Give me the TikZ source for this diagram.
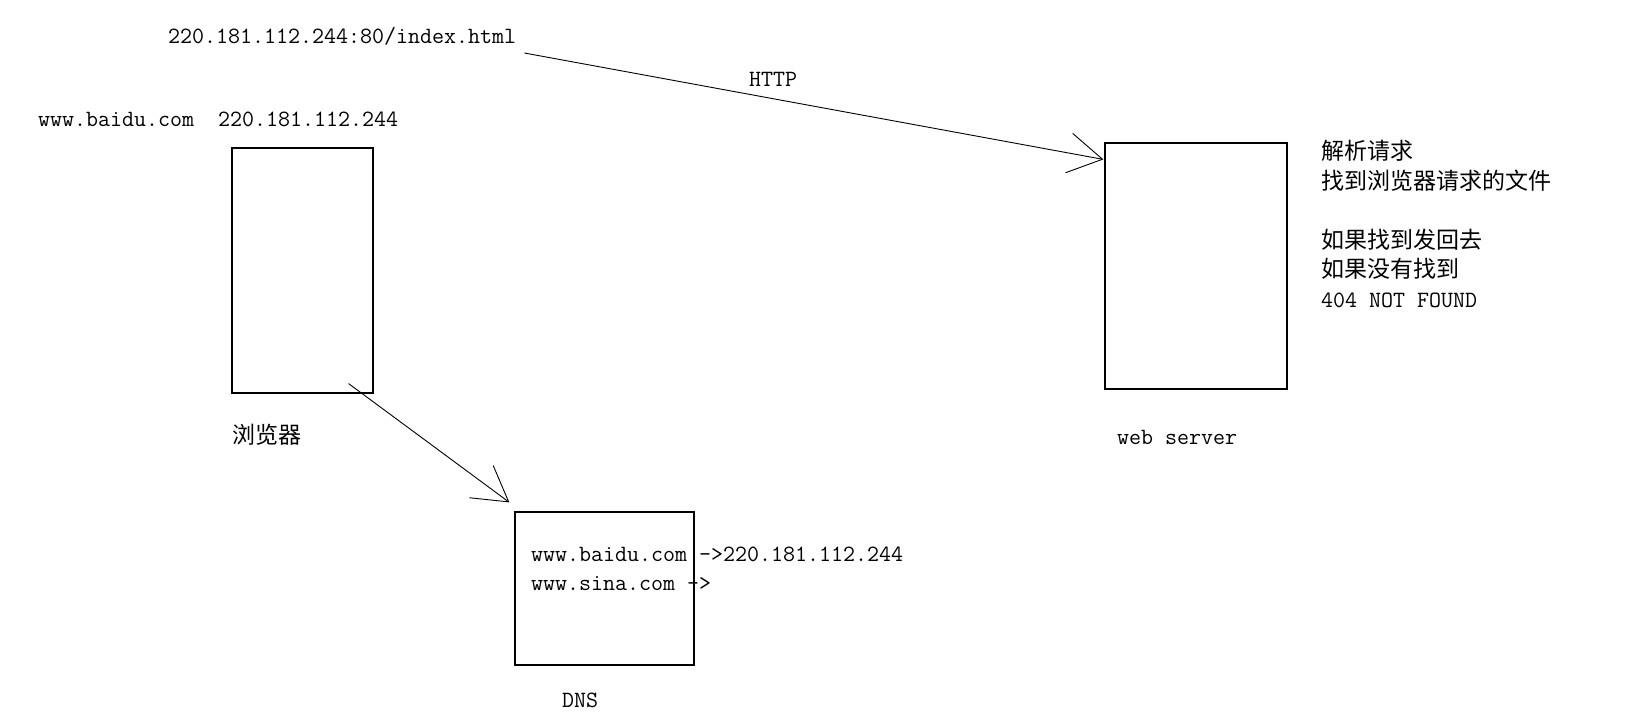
\documentclass[tikz,border=0pt]{standalone}
\usepackage{fontspec}
\newfontfamily\cjk{Noto Sans CJK SC}
\usetikzlibrary{positioning, arrows.meta}

\begin{document}
\begin{tikzpicture}[
    x=1pt, y=-1pt,
    every node/.style={inner sep=0pt},
    box/.style={draw, line width=1.2pt, rectangle},
    mono/.style={font=\ttfamily\fontsize{23.3}{29}\selectfont},
    zh/.style={font=\cjk\fontsize{23}{29.5}\selectfont},
    barb/.style={line width=0.9pt, -{Straight Barb[length=34pt, width=40pt]}}
]
    \useasboundingbox (0,0) rectangle (1641,728);

    % browser, web server and DNS
    \node[box, minimum width=141pt, minimum height=245pt] (browser) at (302.5,270.5) {};
    \node[box, minimum width=182pt, minimum height=246pt] (web) at (1196,266) {};
    \node[box, minimum width=179pt, minimum height=153pt] (dns) at (604.5,588.5) {};

    \node[mono, anchor=base west] (url) at (168,43) {220.181.112.244:80/index.html};
    \node[mono, anchor=base west] (host) at (38,126) {www.baidu.com\ \ 220.181.112.244};
    \node[mono, anchor=base west] (http) at (749,86) {HTTP};
    \node[zh, anchor=west] (browserlabel) at (232,434.5) {浏览器};
    \node[mono, anchor=base west] (weblabel) at (1117,444) {web server};
    \node[mono, anchor=base west] (dnslabel) at (562,707) {DNS};

    % records inside the DNS box
    \node[mono, anchor=base west] (baidu) at (531,561) {www.baidu.com ->220.181.112.244};
    \node[mono, anchor=base west] (sina) at (531,590) {www.sina.com ->};

    \node[zh, anchor=north west, align=left] (notes) at (1321,140)
        {解析请求\\找到浏览器请求的文件\\[29.5pt]如果找到发回去\\如果没有找到\\{\ttfamily\fontsize{23.3}{29.5}\selectfont 404 NOT FOUND}};

    \draw[barb] ([shift={(8,10)}]url.base east) -- ([shift={(-1,17)}]web.north west);
    \draw[barb] ([shift={(-25,-10)}]browser.south east) -- ([shift={(-5,-9)}]dns.north west);
\end{tikzpicture}
\end{document}
